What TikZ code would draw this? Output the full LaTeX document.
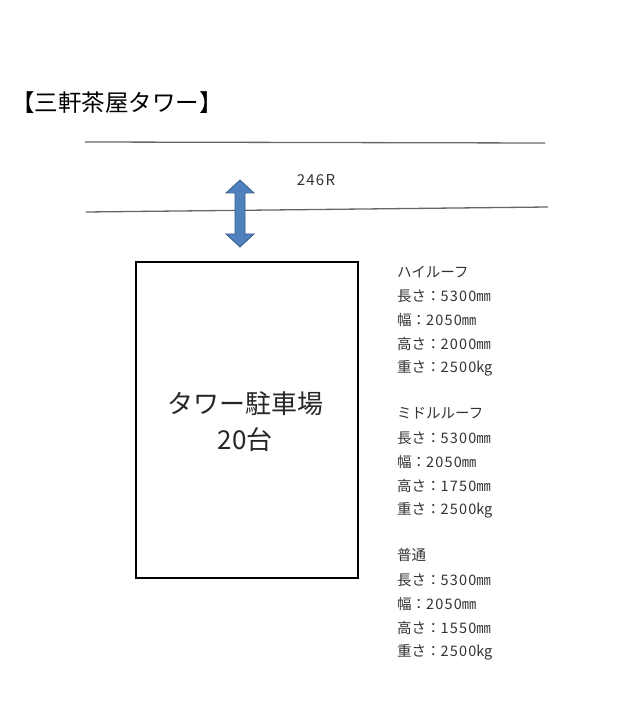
\documentclass[tikz,border=0pt]{standalone}
\usepackage{fontspec}
\setmainfont{Noto Sans CJK JP}
\newcommand{\dgt}[1]{{\addfontfeature{LetterSpace=8}#1}}
\begin{document}
\begin{tikzpicture}[x=1pt,y=-1pt,
  road/.style={draw=gray!80!black, line width=1.3pt},
  spec/.style={anchor=west, inner sep=0, font=\fontsize{14.5}{14.5}\selectfont, text=black!80},
  arrowfill/.style={fill={rgb,255:red,79;green,129;blue,189}, draw={rgb,255:red,56;green,93;blue,138}, line width=0.8pt}]
\useasboundingbox (0,0) rectangle (636,708);
\node[anchor=west, inner sep=0, font=\fontsize{23.5}{23.5}\selectfont] (title) at (11,103) {【三軒茶屋タワー】};
\coordinate (r1a) at (85,142); \coordinate (r1b) at (545,143);
\coordinate (r2a) at (86,212); \coordinate (r2b) at (548,207);
\draw[road] (r1a) -- (r1b);
\draw[road] (r2a) -- (r2b);
\node[inner sep=0, font=\fontsize{15}{15}\selectfont, text=black!80] (road) at (316,180) {\dgt{246R}};
\draw[arrowfill] (240,180) -- (254,193) -- (245,193) -- (245,234) -- (254,234) -- (240,247) -- (226,234) -- (235,234) -- (235,193) -- (226,193) -- cycle;
\node[draw, line width=1.6pt, minimum width=222pt, minimum height=316pt, anchor=north west, inner sep=0] (park) at (135,261) {};
\node[inner sep=0, font=\fontsize{26}{26}\selectfont, text=black!85] (p1) at (245,404) {タワー駐車場};
\node[inner sep=0, font=\fontsize{26}{26}\selectfont, text=black!85] (p2) at (245,440) {20台};
\node[spec] (a0) at (397,272) {ハイルーフ};
\node[spec] (a1) at (397,296) {長さ：\dgt{5300}㎜};
\node[spec] (a2) at (397,320) {幅：\dgt{2050}㎜};
\node[spec] (a3) at (397,344) {高さ：\dgt{2000}㎜};
\node[spec] (a4) at (397,368) {重さ：\dgt{2500}kg};
\node[spec] (b0) at (397,413) {ミドルルーフ};
\node[spec] (b1) at (397,438) {長さ：\dgt{5300}㎜};
\node[spec] (b2) at (397,462) {幅：\dgt{2050}㎜};
\node[spec] (b3) at (397,486) {高さ：\dgt{1750}㎜};
\node[spec] (b4) at (397,510) {重さ：\dgt{2500}kg};
\node[spec] (c0) at (397,555) {普通};
\node[spec] (c1) at (397,580) {長さ：\dgt{5300}㎜};
\node[spec] (c2) at (397,604) {幅：\dgt{2050}㎜};
\node[spec] (c3) at (397,628) {高さ：\dgt{1550}㎜};
\node[spec] (c4) at (397,652) {重さ：\dgt{2500}kg};
\end{tikzpicture}
\end{document}
